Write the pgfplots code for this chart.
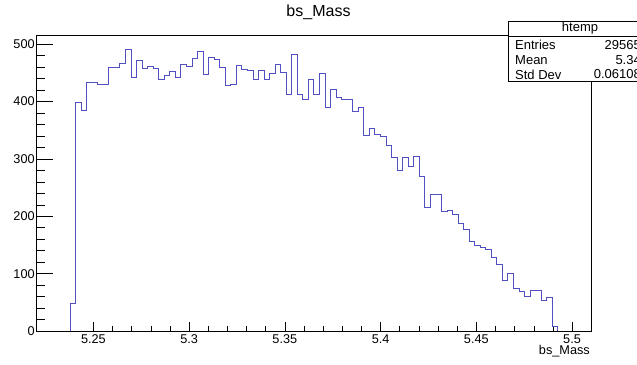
\documentclass[border=0pt]{standalone}
\usepackage{fontspec}
\setmainfont{Liberation Sans}
\usepackage{pgfplots}
\pgfplotsset{compat=1.18}
\definecolor{histblue}{RGB}{80,80,195}
\begin{document}
\begin{tikzpicture}[x=1pt,y=1pt]
\useasboundingbox (0,0) rectangle (637,364);
\begin{scope}
\clip (0,0) rectangle (637,364);
\begin{axis}[
  at={(36.7pt,33pt)}, anchor=south west,
  scale only axis, width=554.3pt, height=296pt,
  xmin=5.2204, xmax=5.5099, ymin=0, ymax=516,
  xtick={5.25,5.3,5.35,5.4,5.45,5.5},
  minor x tick num=4,
  ytick={0,100,200,300,400,500},
  minor y tick num=4,
  tick align=inside,
  xtick pos=bottom, ytick pos=left,
  xtick style={/pgfplots/major tick length=8.9pt,/pgfplots/minor tick length=4.5pt, black, line width=0.5pt},
  ytick style={/pgfplots/major tick length=16.6pt,/pgfplots/minor tick length=8.3pt, black, line width=0.5pt},
  axis line style={black, line width=0.6pt},
  tick label style={font=\fontsize{12.7}{14}\selectfont},
  yticklabel style={xshift=1.5pt},
  /pgf/number format/assume math mode=true,
  xticklabel style={/pgf/number format/precision=2},
  scaled x ticks=false, scaled y ticks=false,
  xlabel={bs\_Mass},
  xlabel style={at={(rel axis cs:1,0)}, anchor=north east, yshift=-13pt, inner sep=1pt, font=\fontsize{12.7}{14}\selectfont},
]
\addplot[const plot, histblue, line width=0.75pt] coordinates {
(5.23777,0) (5.23777,48) (5.24067,399) (5.24356,384) (5.24646,433) (5.24935,433)
(5.25225,430) (5.25514,430) (5.25804,459) (5.26093,459) (5.26383,466)
(5.26672,491) (5.26962,442) (5.27251,472) (5.27541,458) (5.2783,462)
(5.2812,458) (5.28409,439) (5.28699,445) (5.28988,453) (5.29278,442)
(5.29567,465) (5.29857,462) (5.30146,475) (5.30436,487) (5.30725,448)
(5.31015,477) (5.31304,474) (5.31594,459) (5.31883,429) (5.32173,430)
(5.32462,463) (5.32752,456) (5.33041,454) (5.33331,438) (5.3362,454)
(5.3391,439) (5.34199,449) (5.34489,465) (5.34778,451) (5.35068,413)
(5.35357,483) (5.35647,413) (5.35936,404) (5.36226,438) (5.36515,413)
(5.36805,449) (5.37094,390) (5.37384,421) (5.37673,408) (5.37963,404)
(5.38252,404) (5.38542,382) (5.38831,390) (5.39121,341) (5.3941,354)
(5.397,343) (5.39989,340) (5.40279,323) (5.40568,303) (5.40858,280)
(5.41147,302) (5.41437,287) (5.41726,304) (5.42016,269) (5.42305,215)
(5.42595,239) (5.42884,238) (5.43174,208) (5.43463,211) (5.43753,203)
(5.44042,188) (5.44332,177) (5.44621,157) (5.44911,150) (5.452,146)
(5.4549,142) (5.45779,128) (5.46069,116) (5.46358,89) (5.46648,100)
(5.46937,75) (5.47227,69) (5.47516,61) (5.47806,71) (5.48095,70)
(5.48385,54) (5.48674,58) (5.48964,8) (5.49253,8) (5.49253,0)
};
\end{axis}
\node[font=\fontsize{16}{18}\selectfont] at (318.5,352) {bs\_Mass};
\draw[black, line width=0.6pt, fill=white] (508,343) rectangle (652,282.5);
\draw[black, line width=0.6pt] (508,327.5) -- (652,327.5);
\node[font=\fontsize{13}{15}\selectfont] at (580,335.5) {htemp};
\node[anchor=west, font=\fontsize{13}{15}\selectfont, inner sep=0pt] at (515,319) {Entries};
\node[anchor=west, font=\fontsize{13}{15}\selectfont, inner sep=0pt] at (515,304) {Mean};
\node[anchor=west, font=\fontsize{13}{15}\selectfont, inner sep=0pt] at (515,289.5) {Std Dev};
\node[anchor=east, font=\fontsize{13}{15}\selectfont, inner sep=0pt] at (641,319) {29565};
\node[anchor=east, font=\fontsize{13}{15}\selectfont, inner sep=0pt] at (641,304) {5.34};
\node[anchor=east, font=\fontsize{13}{15}\selectfont, inner sep=0pt] at (641,289.5) {0.06108};
\end{scope}
\end{tikzpicture}
\end{document}
